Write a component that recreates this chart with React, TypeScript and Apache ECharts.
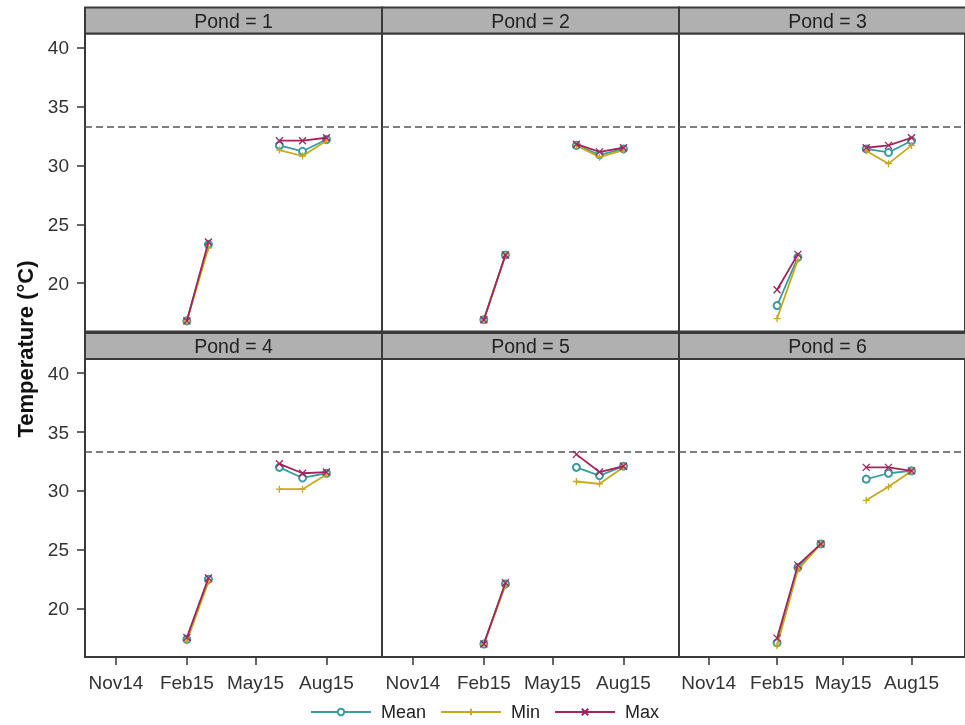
import React, { useEffect, useRef } from "react";
import * as echarts from "echarts";

// ---- data ----
const dates = ["2015-02-01", "2015-03-01", "2015-04-01", "2015-05-01", "2015-06-01", "2015-07-01", "2015-08-01"];
const ponds = [1, 2, 3, 4, 5, 6];
const seriesNames = ["Mean", "Min", "Max"];

const pond1Mean = [16.8, 23.3, null, null, 31.7, 31.2, 32.2];
const pond1Min = [16.8, 23.0, null, null, 31.3, 30.8, 32.1];
const pond1Max = [16.8, 23.5, null, null, 32.1, 32.1, 32.35];

const pond2Mean = [16.9, 22.4, null, null, 31.7, 30.9, 31.4];
const pond2Min = [16.9, 22.4, null, null, 31.7, 30.7, 31.3];
const pond2Max = [16.9, 22.4, null, null, 31.8, 31.15, 31.5];

const pond3Mean = [18.1, 22.2, null, null, 31.4, 31.1, 32.1];
const pond3Min = [17.0, 22.0, null, null, 31.25, 30.15, 31.7];
const pond3Max = [19.45, 22.45, null, null, 31.5, 31.7, 32.35];

const pond4Mean = [17.4, 22.5, null, null, 32.0, 31.1, 31.5];
const pond4Min = [17.25, 22.3, null, null, 30.15, 30.15, 31.4];
const pond4Max = [17.55, 22.6, null, null, 32.3, 31.5, 31.6];

const pond5Mean = [17.0, 22.1, null, null, 32.0, 31.3, 32.1];
const pond5Min = [17.0, 22.0, null, null, 30.8, 30.6, 32.0];
const pond5Max = [17.0, 22.2, null, null, 33.1, 31.6, 32.1];

const pond6Mean = [17.1, 23.5, 25.5, null, 31.0, 31.5, 31.7];
const pond6Min = [16.85, 23.3, 25.5, null, 29.2, 30.35, 31.7];
const pond6Max = [17.5, 23.7, 25.5, null, 32.0, 32.0, 31.7];

const pondData: (number | null)[][][] = [
  [pond1Mean, pond1Min, pond1Max],
  [pond2Mean, pond2Min, pond2Max],
  [pond3Mean, pond3Min, pond3Max],
  [pond4Mean, pond4Min, pond4Max],
  [pond5Mean, pond5Min, pond5Max],
  [pond6Mean, pond6Min, pond6Max],
];

const threshold = 33.3;
const tickDates = ["2014-11-01", "2015-02-01", "2015-05-01", "2015-08-01"];
const tickLabels = ["Nov14", "Feb15", "May15", "Aug15"];
const yTicks = [20, 25, 30, 35, 40];
const xMinDate = "2014-09-22";
const xMaxDate = "2015-10-12";
const yMin = 15.9;
const yMax = 41.2;

// ---- styles ----
const colors = ["#3a9c9c", "#c8a81c", "#a3245e"];
const symbols = [
  "emptyCircle",
  "path://M5,0L5,10M0,5L10,5",
  "path://M0,0L10,10M10,0L0,10",
];
const FONT = "Liberation Sans, Arial, sans-serif";

// days since epoch (UTC)
const toDay = (s: string) => {
  const [y, m, d] = s.split("-").map(Number);
  return Date.UTC(y, m - 1, d) / 86400000;
};

export default function App() {
  const ref = useRef<HTMLDivElement>(null);

  useEffect(() => {
    if (!ref.current) return;
    const chart = echarts.init(ref.current, undefined, { renderer: "svg" });

    const colLeft = [85, 382, 679];
    const rowTop = [33.5, 359];
    const W = 297;
    const H = 298;
    const headerH = 26;

    const tickDays = tickDates.map(toDay);
    const labelFor = (v: number) => {
      const i = tickDays.findIndex((t) => Math.abs(t - v) < 0.5);
      return i >= 0 ? tickLabels[i] : "";
    };

    const grids: any[] = [];
    const xAxes: any[] = [];
    const yAxes: any[] = [];
    const series: any[] = [];
    const graphics: any[] = [];

    ponds.forEach((p, k) => {
      const r = Math.floor(k / 3);
      const c = k % 3;
      grids.push({
        left: colLeft[c],
        top: rowTop[r],
        width: W,
        height: H,
        show: true,
        borderColor: "#3a3a3a",
        borderWidth: 2,
        backgroundColor: "#fff",
      });
      xAxes.push({
        type: "value",
        gridIndex: k,
        min: toDay(xMinDate),
        max: toDay(xMaxDate),
        axisLine: { show: false },
        splitLine: { show: false },
        axisTick: {
          show: r === 1,
          customValues: tickDays,
          length: 8,
          lineStyle: { color: "#333", width: 1.5 },
        },
        axisLabel: {
          show: r === 1,
          customValues: tickDays,
          formatter: (v: number) => labelFor(v),
          fontSize: 19,
          color: "#333",
          fontFamily: FONT,
          margin: 16,
          showMinLabel: true,
          showMaxLabel: true,
        },
      });
      yAxes.push({
        type: "value",
        gridIndex: k,
        min: yMin,
        max: yMax,
        axisLine: { show: false },
        splitLine: { show: false },
        axisTick: {
          show: c === 0,
          customValues: yTicks,
          length: 8,
          lineStyle: { color: "#333", width: 1.5 },
        },
        axisLabel: {
          show: c === 0,
          customValues: yTicks,
          fontSize: 19,
          color: "#333",
          fontFamily: FONT,
          margin: 16,
        },
      });
      seriesNames.forEach((name, s) => {
        const vals = pondData[k][s];
        series.push({
          type: "line",
          name,
          xAxisIndex: k,
          yAxisIndex: k,
          data: dates.map((d, i) => [toDay(d), vals[i] == null ? "-" : vals[i]]),
          connectNulls: false,
          symbol: symbols[s],
          symbolSize: s === 0 ? 7 : 7,
          showSymbol: true,
          lineStyle: { color: colors[s], width: 1.8 },
          itemStyle: {
            color: colors[s],
            borderColor: colors[s],
            borderWidth: 1.3,
          },
          z: 3 + s,
          markLine:
            s === 0
              ? {
                  silent: true,
                  symbol: ["none", "none"],
                  label: { show: false },
                  lineStyle: { type: [7, 4], color: "#555", width: 1.5 },
                  data: [{ yAxis: threshold }],
                }
              : undefined,
        });
      });
      graphics.push({
        type: "rect",
        shape: { x: colLeft[c], y: rowTop[r] - headerH, width: W, height: headerH },
        style: { fill: "#b0b0b0", stroke: "#3a3a3a", lineWidth: 2 },
        z: 10,
      });
      graphics.push({
        type: "text",
        x: colLeft[c] + W / 2,
        y: rowTop[r] - headerH / 2,
        style: {
          text: "Pond = " + p,
          align: "center",
          verticalAlign: "middle",
          fontSize: 19.5,
          fontFamily: FONT,
          fill: "#222",
        },
        z: 11,
      });
    });

    graphics.push({
      type: "text",
      x: 25,
      y: 349,
      rotation: Math.PI / 2,
      style: {
        text: "Temperature (°C)",
        align: "center",
        verticalAlign: "middle",
        fontSize: 22,
        fontWeight: "bold",
        fontFamily: FONT,
        fill: "#111",
      },
    });

    chart.setOption({
      animation: false,
      textStyle: { fontFamily: FONT },
      grid: grids,
      xAxis: xAxes,
      yAxis: yAxes,
      series,
      graphic: graphics,
      legend: {
        data: seriesNames,
        left: 310,
        top: 702,
        padding: 0,
        itemWidth: 60,
        itemHeight: 8,
        itemGap: 14,
        textStyle: { fontSize: 18, lineHeight: 20, color: "#222", fontFamily: FONT, padding: [0, 0, 0, 5] },
      },
    });

    return () => chart.dispose();
  }, []);

  return (
    <div
      ref={ref}
      style={{ position: "fixed", left: 0, top: 0, width: 965, height: 725 }}
    />
  );
}
